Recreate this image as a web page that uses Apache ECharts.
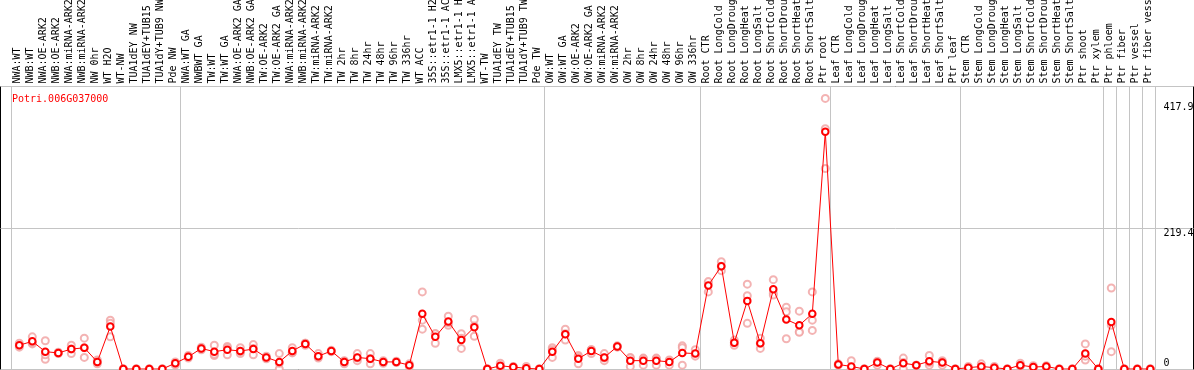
<!DOCTYPE html>
<html>
<head>
<meta charset="utf-8">
<script src="https://cdn.jsdelivr.net/npm/echarts@6/dist/echarts.min.js"></script>
<style>
  html, body { margin: 0; padding: 0; background: #fff; }
  #chart { width: 1194px; height: 370px; }
</style>
</head>
<body>
<div id="chart"></div>
<script>
const chartTitle = 'Potri.006G037000';

const categories = [
  'NWA:WT','NWB:WT','NWA:OE-ARK2','NWB:OE-ARK2','NWA:miRNA-ARK2','NWB:miRNA-ARK2','NW 0hr','WT H2O','WT-NW','TUA1dEY NW','TUA1dEY+TUB15 NW','TUA1dY+TUB9 NW','Pde NW',
  'NWA:WT GA','NWBWT GA','TW:WT','TW:WT GA','NWA:OE-ARK2 GA','NWB:OE-ARK2 GA','TW:OE-ARK2','TW:OE-ARK2 GA','NWA:miRNA-ARK2','NWB:miRNA-ARK2','TW:miRNA-ARK2','TW:miRNA-ARK2',
  'TW 2hr','TW 8hr','TW 24hr','TW 48hr','TW 96hr','TW 336hr','WT ACC','35S::etr1-1 H2O','35S::etr1-1 ACC','LMX5::etr1-1 H2O','LMX5::etr1-1 ACC','WT-TW','TUA1dEY TW','TUA1dEY+TUB15 TW','TUA1dY+TUB9 TW','Pde TW',
  'OW:WT','OW:WT GA','OW:OE-ARK2','OW:OE-ARK2 GA','OW:miRNA-ARK2','OW:miRNA-ARK2','OW 2hr','OW 8hr','OW 24hr','OW 48hr','OW 96hr','OW 336hr',
  'Root CTR','Root LongCold','Root LongDrought','Root LongHeat','Root LongSalt','Root ShortCold','Root ShortDrought','Root ShortHeat','Root ShortSalt','Ptr root',
  'Leaf CTR','Leaf LongCold','Leaf LongDrought','Leaf LongHeat','Leaf LongSalt','Leaf ShortCold','Leaf ShortDrought','Leaf ShortHeat','Leaf ShortSalt','Ptr leaf',
  'Stem CTR','Stem LongCold','Stem LongDrought','Stem LongHeat','Stem LongSalt','Stem ShortCold','Stem ShortDrought','Stem ShortHeat','Stem ShortSalt','Ptr shoot','Ptr xylem',
  'Ptr phloem','Ptr fiber','Ptr vessel','Ptr fiber vessel'
];

const meanValues = [37,43,27,25,31,33,11,66,0,0,0,0,9,
  19,32,27,30,28,31,18,11,28,39,20,28,11,18,16,11,11,6,86,50,74,45,65,0,5,3,1,0,
  27,54,16,28,18,35,13,13,13,11,25,24,
  130,160,41,106,40,124,77,68,86,369,
  7,4,0,10,0,9,6,12,10,0,
  2,4,2,0,6,3,4,0,0,24,0,
  73,0,0,0];

const rep1 = [34,50,44,24,37,48,14,76,0,0,0,0,11,
  21,34,37,35,33,38,18,24,33,40,24,28,13,24,24,13,11,8,120,55,82,55,77,0,9,4,4,0,
  33,62,21,30,24,36,18,17,17,13,36,30,
  134,167,45,132,48,139,96,90,120,421,
  8,13,0,11,0,17,6,21,13,0,
  4,8,4,0,9,5,5,0,0,39,0,
  126,0,0,0];
const rep2 = [37,39,15,26,24,18,8,71,0,0,0,0,6,
  17,30,21,22,24,22,16,0,25,37,17,27,8,13,8,9,10,4,76,40,68,32,51,0,3,2,0,0,
  18,45,8,24,13,34,4,6,6,6,6,22,
  120,153,37,114,32,118,89,58,76,312,
  6,0,0,6,0,10,6,6,6,0,
  1,2,1,0,5,2,3,0,0,14,0,
  68,0,0,0];
const rep3 = [40,41,22,25,31,33,11,50,0,0,0,0,9,
  19,32,23,33,27,32,20,9,26,40,19,29,12,17,16,11,12,6,62,55,72,48,67,0,3,3,0,0,
  30,55,19,30,17,35,17,16,16,14,33,20,
  136,160,41,71,40,115,47,57,60,374,
  7,0,0,12,0,0,6,10,11,0,
  1,2,1,0,5,2,3,0,0,20,0,
  27,0,0,0];

// group separators (category index where a new group starts)
const groupStarts = [0,13,41,53,63,73,84,85,86,87];

// y-axis tick labels
const yMaxLabel = 417.9;
const yMidLabel = 219.4;
const yAxisMax = 438.8;

const FONT = 'DejaVu Sans Mono';
const GRIDGRAY = '#c4c4c4';

const repData = [];
[rep1, rep2, rep3].forEach(r => r.forEach((v, i) => repData.push([i, v])));

const chart = echarts.init(document.getElementById('chart'), null, { renderer: 'canvas' });

function onlyLabel(target) {
  return function (v) { return Math.abs(v - target) < 1e-6 ? String(target) : ''; };
}

const hiddenVal = { type: 'value', show: false, min: 0, max: yAxisMax };

chart.setOption({
  animation: false,
  backgroundColor: '#fff',
  title: {
    text: chartTitle, left: 7, top: 89,
    textStyle: { color: '#ff0000', fontSize: 10, fontWeight: 'normal', fontFamily: FONT }
  },
  grid: [
    { left: 0.5, right: 0.5, top: 86.5, bottom: 0.5, show: true, borderColor: '#000', borderWidth: 1,
      backgroundColor: 'transparent', containLabel: false, outerBoundsMode: 'none' },
    { left: 12.8, width: 1144, top: 87, bottom: 1, containLabel: false, outerBoundsMode: 'none' },
    { left: 11, width: 1144, top: 86.5, bottom: 0.5, containLabel: false, outerBoundsMode: 'none' }
  ],
  xAxis: [
    { type: 'value', gridIndex: 0, show: false, min: 0, max: 1 },
    { type: 'category', gridIndex: 1, data: categories, boundaryGap: true, show: false },
    {
      type: 'category', gridIndex: 2, data: categories, position: 'top', boundaryGap: true,
      axisLine: { show: false, onZero: false }, axisTick: { show: false },
      axisLabel: { interval: 0, rotate: -90, margin: 3, fontSize: 10, fontFamily: FONT, color: '#000', hideOverlap: false },
      splitLine: {
        show: true,
        interval: function (idx) { return groupStarts.indexOf(idx) >= 0; },
        lineStyle: { color: GRIDGRAY, width: 1 }
      }
    }
  ],
  yAxis: [
    {
      type: 'value', gridIndex: 0, position: 'right', min: 0, max: yAxisMax, interval: yMidLabel,
      axisLine: { show: false }, axisTick: { show: false },
      splitLine: { show: true, lineStyle: { color: GRIDGRAY, width: 1 } },
      axisLabel: { inside: true, align: 'left', margin: 30, verticalAlign: 'top', lineHeight: 10,
        fontSize: 10, fontFamily: FONT, color: '#000', formatter: onlyLabel(yMidLabel) }
    },
    {
      type: 'value', gridIndex: 0, position: 'right', min: 0, max: yAxisMax, interval: yMidLabel,
      axisLine: { show: false }, axisTick: { show: false }, splitLine: { show: false },
      axisLabel: { inside: true, align: 'left', margin: 30, verticalAlign: 'bottom', lineHeight: 10,
        padding: [0, 0, 1, 0], fontSize: 10, fontFamily: FONT, color: '#000', formatter: onlyLabel(0) }
    },
    {
      type: 'value', gridIndex: 0, position: 'right', min: 0, max: yAxisMax, interval: yMaxLabel,
      axisLine: { show: false }, axisTick: { show: false }, splitLine: { show: false },
      axisLabel: { inside: true, align: 'left', margin: 30, verticalAlign: 'top', lineHeight: 10,
        padding: [2, 0, 0, 0], fontSize: 10, fontFamily: FONT, color: '#000', formatter: onlyLabel(yMaxLabel) }
    },
    Object.assign({ gridIndex: 1 }, hiddenVal),
    Object.assign({ gridIndex: 2 }, hiddenVal)
  ],
  series: [
    {
      type: 'scatter', name: 'replicates', xAxisIndex: 1, yAxisIndex: 3,
      data: repData, symbol: 'emptyCircle', symbolSize: 7, z: 2,
      itemStyle: { color: '#f0a0a0', borderColor: '#f0a0a0', borderWidth: 1.1 }
    },
    {
      type: 'line', name: 'mean', xAxisIndex: 1, yAxisIndex: 3,
      data: meanValues, symbol: 'emptyCircle', symbolSize: 6.5, z: 3,
      lineStyle: { color: '#ff0000', width: 1 },
      itemStyle: { color: '#ff0000', borderColor: '#ff0000', borderWidth: 1.5 }
    }
  ]
});
</script>
</body>
</html>
